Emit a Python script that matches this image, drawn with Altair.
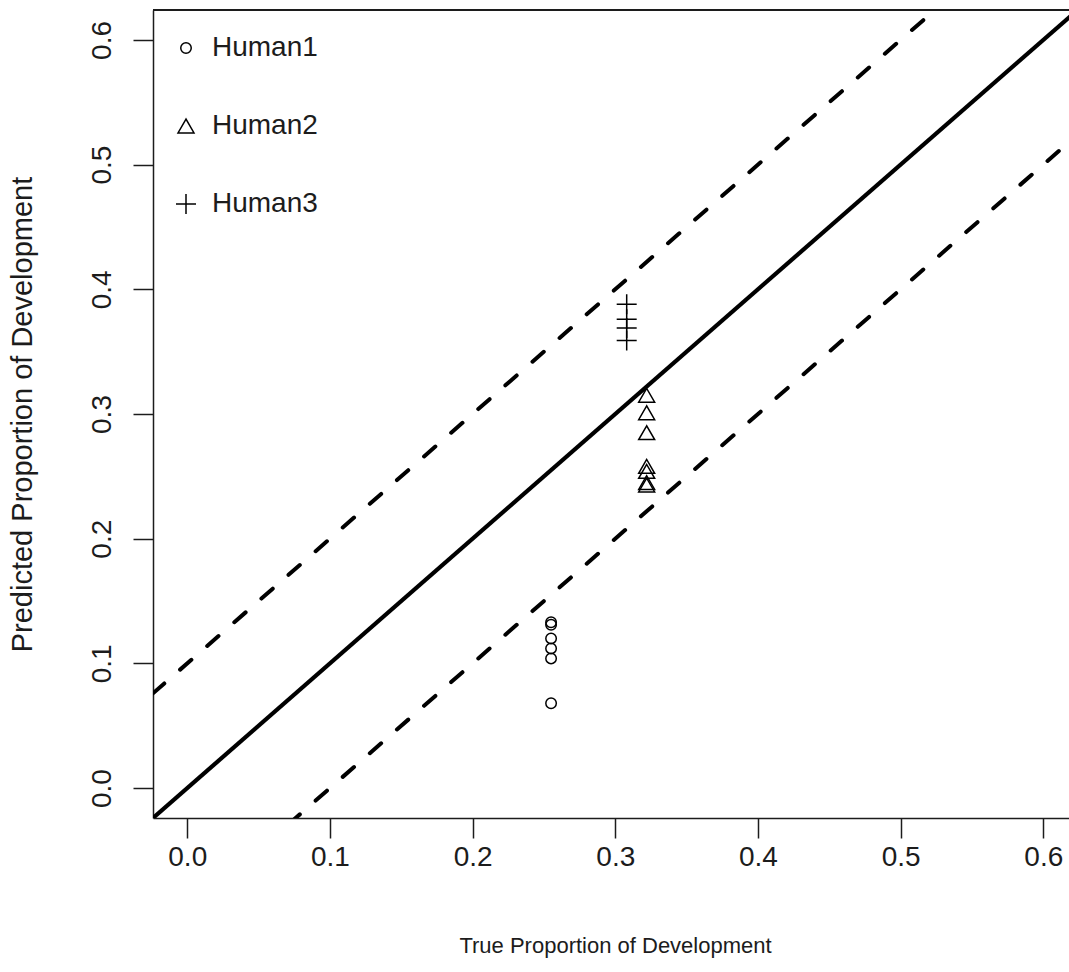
import altair as alt
import pandas as pd

# Observations: true vs predicted proportion of development, per subject
groups = ["Human1"] * 6 + ["Human2"] * 7 + ["Human3"] * 4
true_prop = [0.255] * 6 + [0.322] * 7 + [0.308] * 4
pred_prop = [
    0.133, 0.131, 0.120, 0.112, 0.104, 0.068,          # Human1
    0.315, 0.301, 0.285, 0.258, 0.254, 0.245, 0.243,   # Human2
    0.388, 0.376, 0.369, 0.359,                        # Human3
]

# Reference lines y = x + offset (identity and +/- 0.1 bands)
line_x = [-0.1, 0.8]
band_offsets = [0.1, -0.1]
identity_offset = [0.0]

legend_names = ["Human1", "Human2", "Human3"]
legend_shapes = ["circle", "triangle-up", "M-1,0L1,0M0,-1L0,1"]
legend_sizes = [110, 400, 441]

tick_values = [0.0, 0.1, 0.2, 0.3, 0.4, 0.5, 0.6]
x_domain = [-0.024, 0.618]
y_domain = [-0.024, 0.624]

FONT = "Liberation Sans"
INK = "#1c1c1c"
TICK_FS = 28
XTITLE_FS = 22
YTITLE_FS = 29
W, H = 916, 808

points = pd.DataFrame({"group": groups, "true": true_prop, "pred": pred_prop})


def line_frame(offsets):
    rows = []
    for i, off in enumerate(offsets):
        for x in line_x:
            rows.append({"line": i, "x": x, "y": x + off})
    return pd.DataFrame(rows)


x_scale = alt.Scale(domain=x_domain, nice=False, zero=False)
y_scale = alt.Scale(domain=y_domain, nice=False, zero=False)

x_axis = alt.Axis(
    values=tick_values, format=".1f", grid=False,
    labelFont=FONT, labelFontSize=TICK_FS, labelColor=INK, labelPadding=5,
    labelFlush=False,
    tickSize=20, tickWidth=1.5, tickColor=INK,
    domainColor=INK, domainWidth=1.5,
    title="True Proportion of Development", titleFont=FONT, titleFontSize=XTITLE_FS,
    titleFontWeight="normal", titleColor=INK,
    titleX=462, titleY=127, titleAlign="center", titleBaseline="middle",
)
y_axis = alt.Axis(
    values=tick_values, format=".1f", grid=False,
    labelFont=FONT, labelFontSize=TICK_FS, labelColor=INK,
    labelAngle=270, labelAlign="center", labelBaseline="alphabetic", labelPadding=23,
    labelFlush=False,
    tickSize=20, tickWidth=1.5, tickColor=INK,
    domainColor=INK, domainWidth=1.5,
    title="Predicted Proportion of Development", titleFont=FONT, titleFontSize=YTITLE_FS,
    titleFontWeight="normal", titleColor=INK, titleAngle=270,
    titleX=-131, titleY=404, titleAlign="center", titleBaseline="middle",
)

identity = alt.Chart(line_frame(identity_offset)).mark_line(
    color="black", strokeWidth=4.2, clip=True
).encode(
    x=alt.X("x:Q", scale=x_scale, axis=x_axis),
    y=alt.Y("y:Q", scale=y_scale, axis=y_axis),
    detail="line:N",
)

bands = alt.Chart(line_frame(band_offsets)).mark_line(
    color="black", strokeWidth=4, strokeDash=[15, 21], strokeCap="round", clip=True
).encode(
    x=alt.X("x:Q", scale=x_scale),
    y=alt.Y("y:Q", scale=y_scale),
    detail="line:N",
)

legend = alt.Legend(
    title=None, orient="none", legendX=19, legendY=24,
    labelFont=FONT, labelFontSize=TICK_FS, labelColor=INK, labelOffset=12,
    rowPadding=50, padding=0,
    symbolStrokeColor="black", symbolFillColor="transparent", symbolStrokeWidth=1.5,
)

marks = alt.Chart(points).mark_point(
    filled=False, color="black", strokeWidth=1.5, opacity=1
).encode(
    x=alt.X("true:Q", scale=x_scale),
    y=alt.Y("pred:Q", scale=y_scale),
    shape=alt.Shape("group:N", scale=alt.Scale(domain=legend_names, range=legend_shapes), legend=legend),
    size=alt.Size("group:N", scale=alt.Scale(domain=legend_names, range=legend_sizes), legend=legend),
)

# Top frame line (right side of the frame falls outside the visible area)
top_border = alt.Chart(points).mark_rule(color=INK, strokeWidth=1.5).encode(
    x=alt.value(0), x2=alt.value(W), y=alt.value(0)
)

chart = alt.layer(identity, bands, marks, top_border).properties(
    width=W, height=H,
    autosize=alt.AutoSizeParams(type="none"),
    padding={"left": 153, "top": 10, "right": 0, "bottom": 154},
    background="white",
).configure_view(stroke=None)

chart.save("out.html", embed_options={"renderer": "svg", "actions": False})
